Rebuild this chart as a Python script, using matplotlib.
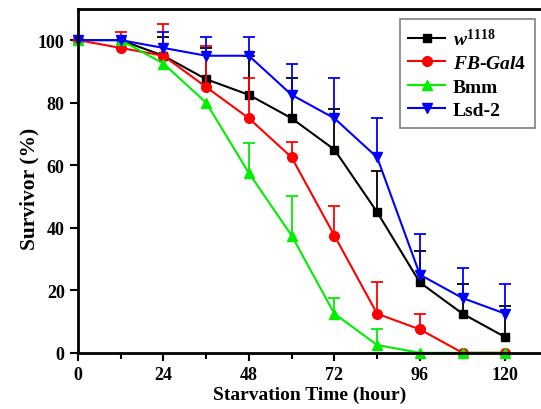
import numpy as np
import matplotlib.pyplot as plt
from matplotlib.ticker import MultipleLocator

plt.rcParams['font.family'] = 'Liberation Serif'
plt.rcParams['font.weight'] = 'bold'
plt.rcParams['mathtext.fontset'] = 'custom'
plt.rcParams['mathtext.it'] = 'Liberation Serif:italic:bold'
plt.rcParams['mathtext.rm'] = 'Liberation Serif:bold'

# starvation time (hours)
hours = [0, 12, 24, 36, 48, 60, 72, 84, 96, 108, 120]

# survivor (%) and upper error for each line
w1118 = [100, 100, 95, 87.5, 82.5, 75, 65, 45, 22.5, 12.5, 5]
w1118_err = [0, 0, 6, 10, 12.5, 13, 13, 13, 10, 9.5, 10]
fbgal4 = [100, 97.5, 95, 85, 75, 62.5, 37.5, 12.5, 7.5, 0, 0]
fbgal4_err = [0, 5, 10, 13, 13, 5, 9.5, 10, 5, 0, 0]
bmm = [100, 100, 92.5, 80, 57.5, 37.5, 12.5, 2.5, 0, 0, 0]
bmm_err = [0, 0, 0, 0, 9.5, 12.5, 5, 5, 0, 0, 0]
lsd2 = [100, 100, 97.5, 95, 95, 82.5, 75, 62.5, 25, 17.5, 12.5]
lsd2_err = [0, 0, 5, 6, 6, 10, 13, 12.5, 13, 9.5, 9.5]

series = [
    (w1118, w1118_err, 'black', 's', 6, r'$\mathit{w^{1118}}$'),
    (fbgal4, fbgal4_err, 'red', 'o', 7, r'$\mathit{FB}$-$\mathit{Gal4}$'),
    (bmm, bmm_err, '#00ee00', '^', 7.5, 'Bmm'),
    (lsd2, lsd2_err, 'blue', 'v', 7.5, 'Lsd-2'),
]

fig = plt.figure(figsize=(5.41, 4.10), dpi=100)
ax = fig.add_axes([0.144, 0.137, 0.856, 0.839])

x = np.array(hours)
for y, err, c, m, ms, lab in series:
    y = np.array(y)
    err = np.array(err)
    k = err > 0
    # upper-only error bars
    ax.vlines(x[k], y[k], y[k] + err[k], color=c, lw=1.3)
    ax.plot(x[k], y[k] + err[k], ls='none', marker='_', ms=9, mew=1.3, color=c)
    ax.plot(x, y, color=c, marker=m, ms=ms, lw=1.5, label=lab, clip_on=False)

ax.set_xlim(0, 130)
ax.set_ylim(0, 110)
ax.xaxis.set_minor_locator(MultipleLocator(12))
ax.set_xticks([0, 24, 48, 72, 96, 120])
ax.set_yticks([0, 20, 40, 60, 80, 100])

ax.spines['right'].set_visible(False)
for s in ['left', 'bottom', 'top']:
    ax.spines[s].set_linewidth(2)
ax.tick_params(which='major', direction='out', length=6, width=1.5, labelsize=13)
ax.tick_params(which='minor', direction='out', length=4, width=1.5)

ax.set_xlabel('Starvation Time (hour)', fontsize=14, fontweight='bold', labelpad=2)
ax.set_ylabel('Survivor (%)', fontsize=15.5, fontweight='bold')
ax.yaxis.set_label_coords(-0.083, 0.48)

leg = ax.legend(loc='upper right', fontsize=14, fancybox=False, edgecolor='gray',
                framealpha=1, handlelength=1.9, handletextpad=0.4, borderpad=0.45,
                labelspacing=0.3, borderaxespad=0, bbox_to_anchor=(0.987, 0.971))
leg.get_frame().set_linewidth(1.2)
for t in leg.get_texts():
    t.set_fontweight('bold')

fig.savefig('out.png', dpi=100)
